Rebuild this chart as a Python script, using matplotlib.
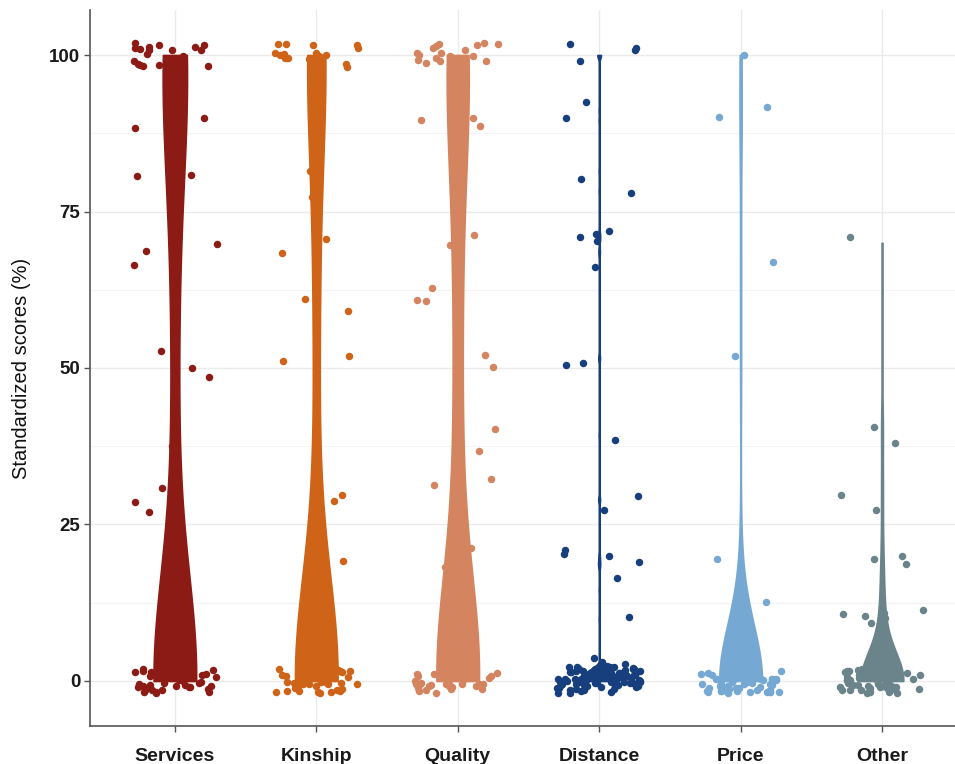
import numpy as np
import matplotlib.pyplot as plt
from matplotlib.ticker import MultipleLocator

plt.rcParams['font.family'] = ['Liberation Sans', 'DejaVu Sans']

categories = ['Services', 'Kinship', 'Quality', 'Distance', 'Price', 'Other']
colors = ['#8C1A15', '#CF6317', '#D4845F', '#173F7E', '#75A8D3', '#6B848C']

# standardized score levels and number of respondents at each level
services_scores = [0, 28.0, 28.3, 30.8, 39.3, 48.1, 51.1, 54.6, 68.0, 68.4, 69.3,
                   79.9, 80.2, 81.3, 89.8, 90.7, 100]
services_counts = [40, 1, 1, 1, 1, 1, 1, 1, 1, 1, 1, 1, 1, 1, 1, 1, 19]

kinship_scores = [0, 18.4, 29.2, 31.0, 31.3, 51.0, 51.8, 58.3, 61.0, 68.5, 68.7,
                  78.7, 81.6, 100]
kinship_counts = [45, 1, 1, 1, 1, 1, 1, 1, 1, 1, 1, 1, 1, 18]

quality_scores = [0, 19.8, 21.4, 29.9, 30.0, 30.7, 38.2, 39.8, 51.6, 59.3, 60.7,
                  60.9, 70.9, 71.2, 78.9, 81.8, 88.2, 89.6, 90.7, 100]
quality_counts = [40, 1, 1, 1, 1, 1, 1, 1, 2, 1, 1, 1, 1, 1, 1, 1, 1, 1, 1, 17]

distance_scores = [0, 0.5, 1, 1.5, 2, 9.9, 14.5, 18.1, 18.7, 19.2, 20.1, 28.8,
                   29.1, 39.3, 51.3, 51.8, 68.1, 68.9, 70.6, 70.9, 71.7, 78.3,
                   81.5, 89.5, 91.2, 100]
distance_counts = [30, 18, 14, 10, 8, 1, 1, 1, 1, 1, 1, 1, 1, 1, 1, 1, 1, 1, 1,
                   1, 1, 1, 1, 1, 1, 4]

price_scores = [0, 11.0, 19.0, 50.0, 68.0, 89.5, 91.4, 100]
price_counts = [55, 1, 1, 1, 1, 1, 1, 1]

other_scores = [0, 8.3, 9.1, 10.2, 11.2, 11.3, 11.7, 18.1, 19.0, 19.3, 29.1,
                30.2, 39.6, 41.1, 70.0]
other_counts = [56, 1, 1, 1, 1, 1, 1, 1, 1, 1, 1, 1, 1, 1, 1]

scores = [services_scores, kinship_scores, quality_scores,
          distance_scores, price_scores, other_scores]
counts = [services_counts, kinship_counts, quality_counts,
          distance_counts, price_counts, other_counts]
data = [np.repeat(s, c) for s, c in zip(scores, counts)]


def nrd0(kde):
    # Silverman's rule of thumb as in R's bw.nrd0
    x = kde.dataset[0]
    sd = np.std(x, ddof=1)
    q75, q25 = np.percentile(x, [75, 25])
    lo = min(sd, (q75 - q25) / 1.34)
    if lo == 0:
        lo = sd
    bw = 0.9 * lo * len(x) ** -0.2
    return bw / sd


fig = plt.figure(figsize=(9.55, 7.64), dpi=100)
ax = fig.add_axes([90 / 955, 38 / 764, 865 / 955, 716 / 764])

pos = np.arange(len(categories))
parts = ax.violinplot(data, positions=pos, widths=0.3, showextrema=False,
                      points=800, bw_method=nrd0)
for body, c in zip(parts['bodies'], colors):
    body.set_facecolor(c)
    body.set_edgecolor(c)
    body.set_alpha(1)
    body.set_linewidth(1.3)
    body.set_zorder(2)

rng = np.random.default_rng(11)
for i, (vals, c) in enumerate(zip(data, colors)):
    xj = i + rng.uniform(-0.3, 0.3, len(vals))
    yj = vals + rng.uniform(-2, 2, len(vals))
    ax.scatter(xj, yj, s=29, color=c, linewidths=0, zorder=3)

ax.set_xlim(-0.6, 5.516)
ax.set_ylim(-7.2, 107.2)
ax.set_xticks(pos)
ax.set_xticklabels(categories, fontsize=14, fontweight='bold', color='#1a1a1a')
ax.set_yticks([0, 25, 50, 75, 100])
ax.set_yticklabels(['0', '25', '50', '75', '100'], fontsize=13.5,
                   fontweight='bold', color='#1a1a1a')
ax.yaxis.set_minor_locator(MultipleLocator(12.5))
ax.tick_params(which='major', length=4, width=1, color='#555555', pad=3)
ax.tick_params(axis='x', pad=12)
ax.tick_params(which='minor', length=0)

ax.grid(which='major', color='#EBEBEB', linewidth=1)
ax.grid(which='minor', axis='y', color='#F4F4F4', linewidth=0.8)
ax.set_axisbelow(True)

for side in ['top', 'right']:
    ax.spines[side].set_visible(False)
for side in ['left', 'bottom']:
    ax.spines[side].set_color('#555555')
    ax.spines[side].set_linewidth(1.2)

ax.set_ylabel('Standardized scores (%)', fontsize=14.5, color='#111111',
              labelpad=13)

fig.savefig('out.png', dpi=100)
